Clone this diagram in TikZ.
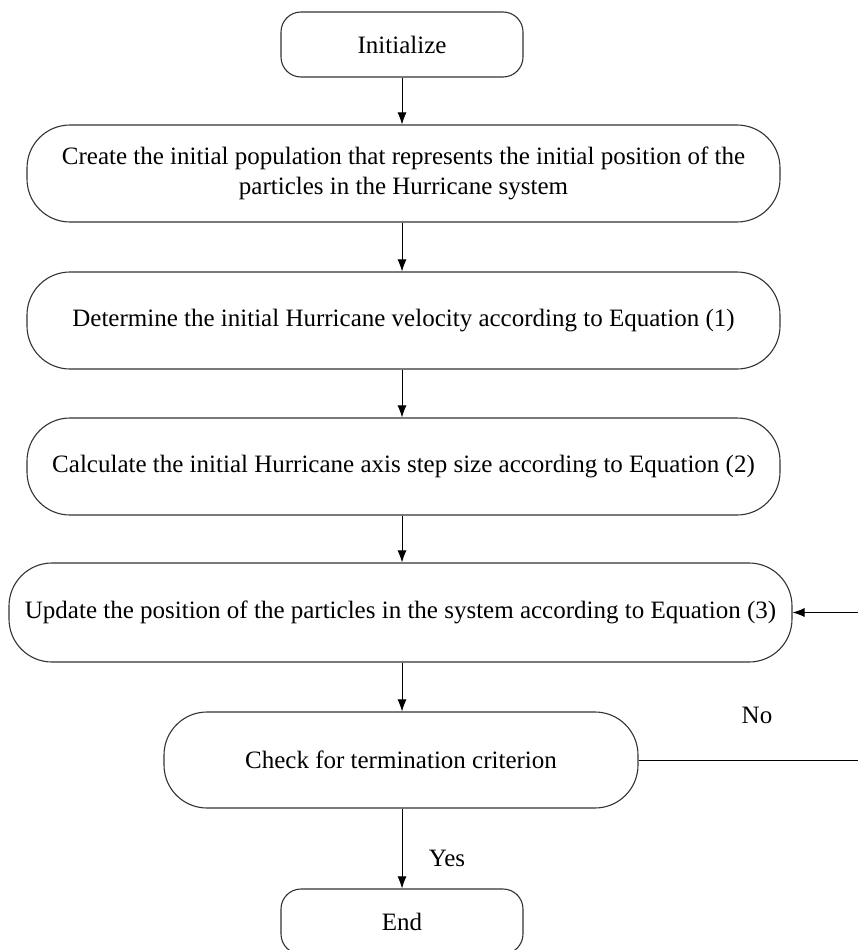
\documentclass[tikz,border=0pt]{standalone}
\usepackage{fontspec}
\setmainfont{Liberation Serif}
\usetikzlibrary{arrows.meta,calc}
\tikzset{
  bigbox/.style={draw=black!80, line width=1.1pt, rounded corners=43pt, inner sep=0pt,
    minimum width=753pt, minimum height=97pt, align=center,
    font=\fontsize{25}{30}\selectfont},
  termbox/.style={draw=black!80, line width=1.1pt, rounded corners=20pt, inner sep=0pt,
    minimum width=242pt, minimum height=65pt, align=center,
    font=\fontsize{25}{30}\selectfont},
  flow/.style={draw=black, line width=0.9pt, -{Latex[length=12pt,width=9pt]}},
  lbl/.style={font=\fontsize{25}{30}\selectfont, inner sep=0pt}
}
\begin{document}
\begin{tikzpicture}[x=1pt,y=-1pt]
\clip (0,0) rectangle (858,950);
\fill[white] (0,0) rectangle (858,950);

\node[termbox] (init) at (402,44.5) {Initialize};
\node[bigbox] (b2) at (403.5,173.5) {Create the initial population that represents the initial position of the\\particles in the Hurricane system};
\node[bigbox] (b3) at (403.5,320.5) {Determine the initial Hurricane velocity according to Equation (1)};
\node[bigbox] (b4) at (403.5,466.5) {Calculate the initial Hurricane axis step size according to Equation (2)};
\node[bigbox, minimum width=783pt, minimum height=99pt] (b5) at (400.5,612.5) {Update the position of the particles in the system according to Equation (3)};
\node[bigbox, minimum width=474pt, minimum height=96pt] (b6) at (401,760) {Check for termination criterion};
\node[termbox] (end) at (402,921.5) {End};

\node[lbl] (no) at (757,715) {No};
\node[lbl] (yes) at (447,858) {Yes};

\coordinate (c1) at (860,760);
\coordinate (c2) at (860,612.5);

\draw[flow] (init.south) -- (init.south |- b2.north);
\draw[flow] (init.south |- b2.south) -- (init.south |- b3.north);
\draw[flow] (init.south |- b3.south) -- (init.south |- b4.north);
\draw[flow] (init.south |- b4.south) -- (init.south |- b5.north);
\draw[flow] (init.south |- b5.south) -- (init.south |- b6.north);
\draw[flow] (init.south |- b6.south) -- (end.north);
\draw[flow] (b6.east) -- (c1) -- (c2) -- (b5.east);
\end{tikzpicture}
\end{document}
